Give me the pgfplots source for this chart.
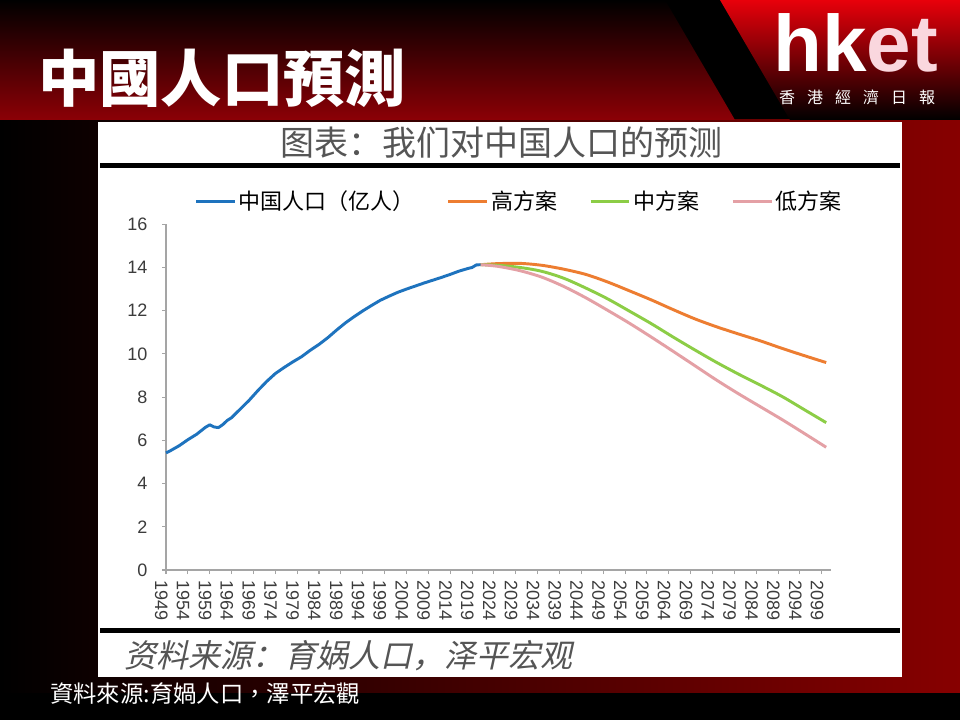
\documentclass[border=0pt]{standalone}
\usepackage{fontspec}
\usepackage{pgfplots}
\pgfplotsset{compat=1.18}
\setmainfont{Liberation Sans}
\newfontfamily\tcfont{Noto Sans CJK TC}
\newfontfamily\scfont{Noto Sans CJK SC}
\newfontfamily\scslant{Noto Sans CJK SC}[FakeSlant=0.22]
\definecolor{cblue}{RGB}{30,115,190}
\definecolor{corange}{RGB}{237,125,49}
\definecolor{cgreen}{RGB}{140,205,70}
\definecolor{cpink}{RGB}{228,160,165}
\definecolor{axgray}{RGB}{165,165,165}
\definecolor{txtgray}{RGB}{60,60,60}
\definecolor{titlegray}{RGB}{85,85,85}
\definecolor{dred}{RGB}{135,0,0}
\definecolor{bannerred}{RGB}{140,0,6}
\definecolor{bannermid}{RGB}{40,0,0}
\definecolor{logored}{RGB}{232,0,10}
\definecolor{logomid}{RGB}{150,0,5}
\definecolor{logopink}{RGB}{250,215,222}
\begin{document}
\begin{tikzpicture}
\begin{scope}[x=0.75pt,y=-0.75pt]
\useasboundingbox (0,0) rectangle (960,720);
\fill[black] (0,0) rectangle (960,720);
\shade[left color=black, middle color=black, right color=dred] (0,120) rectangle (960,692);
\shade[top color=black, middle color=bannermid, bottom color=bannerred] (0,0) -- (665,0) -- (735,120) -- (0,120) -- cycle;
\shade[top color=logored, middle color=logomid, bottom color=black] (720,0) -- (960,0) -- (960,120) -- (790,120) -- cycle;
\fill[white] (98,122) rectangle (902,677);
\fill[black] (100,163) rectangle (900,168);
\fill[black] (100,628) rectangle (900,633);
% banner title
\node[anchor=west, inner sep=0, text=white] at (38,78) {\tcfont\bfseries\fontsize{46}{46}\selectfont 中國人口預測};
% logo
\node[anchor=base west, inner sep=0, text=white] at (773,72) {\bfseries\fontsize{60}{60}\selectfont hk\textcolor{logopink}{et}};
\node[inner sep=0, text=white] at (857,97.5) {\tcfont\fontsize{12}{12}\selectfont 香\hspace{9pt}港\hspace{9pt}經\hspace{9pt}濟\hspace{9pt}日\hspace{9pt}報};
% chart title
\node[inner sep=0, text=titlegray] at (501,143) {\scfont\fontsize{25.5}{25.5}\selectfont 图表：我们对中国人口的预测};
% source in panel
\node[anchor=west, inner sep=0, text=titlegray] at (124,656) {\scslant\fontsize{24}{24}\selectfont 资料来源：育娲人口，泽平宏观};
% caption
\node[anchor=west, inner sep=0, text=white] at (50,694) {\tcfont\fontsize{17.5}{17.5}\selectfont 資料來源:育媧人口，澤平宏觀};
\end{scope}
\begin{axis}[
  at={(124.5pt,-427.5pt)}, anchor=south west,
  scale only axis, width=498.4pt, height=259.3pt,
  xmin=1949, xmax=2101, ymin=0, ymax=16,
  axis lines=left, axis line style={-, draw=axgray, line width=1.2pt},
  xtick={1949,1954,...,2099}, ytick={0,2,...,16},
  tick align=outside, major tick length=3pt,
  tick style={draw=axgray, line width=0.8pt},
  /pgf/number format/1000 sep={}, /pgf/number format/assume math mode=true,
  ticklabel style={text=txtgray},
  xticklabel style={rotate=-90, anchor=west, yshift=-3.5pt, xshift=1pt, font=\fontsize{13.5}{13.5}\selectfont},
  yticklabel style={xshift=-7.5pt, font=\fontsize{13.5}{13.5}\selectfont},
  clip=false,
  legend columns=4,
  legend style={at={(0.532,1.067)}, anchor=center, draw=none, fill=none,
    font=\scfont\fontsize{16.5}{16.5}\selectfont,
    /tikz/every even column/.append style={column sep=22pt}},
  legend image code/.code={\draw[#1, line width=2.2pt] (0pt,0pt) -- (29pt,0pt);},
]
\addplot[cblue, line width=2.2pt, line join=round] coordinates {
(1949,5.42) (1950,5.52) (1952,5.75) (1954,6.03) (1956,6.28) (1958,6.60) (1959,6.72)
(1960,6.62) (1961,6.59) (1962,6.73) (1963,6.92) (1964,7.05) (1966,7.45) (1968,7.85)
(1970,8.30) (1972,8.72) (1974,9.09) (1976,9.37) (1978,9.63) (1980,9.87) (1982,10.17)
(1984,10.44) (1986,10.75) (1988,11.10) (1990,11.43) (1992,11.72) (1994,11.99)
(1996,12.24) (1998,12.48) (2000,12.67) (2002,12.85) (2004,13.00) (2006,13.14)
(2008,13.28) (2010,13.41) (2012,13.54) (2014,13.68) (2016,13.83) (2018,13.95)
(2019,14.00) (2020,14.12) (2021,14.13)};
\addlegendentry{中国人口（亿人）}
\addplot[corange, line width=2.2pt, smooth] coordinates {
(2021,14.13) (2025,14.18) (2030,14.19) (2035,14.10) (2040,13.92) (2045,13.68)
(2050,13.33) (2055,12.92) (2060,12.50) (2065,12.05) (2070,11.62) (2075,11.25)
(2080,10.92) (2085,10.60) (2090,10.25) (2095,9.92) (2100,9.60)};
\addlegendentry{高方案}
\addplot[cgreen, line width=2.2pt, smooth] coordinates {
(2021,14.13) (2025,14.10) (2030,14.00) (2035,13.82) (2040,13.50) (2045,13.05)
(2050,12.55) (2055,11.98) (2060,11.40) (2065,10.78) (2070,10.18) (2075,9.60)
(2080,9.06) (2085,8.55) (2090,8.02) (2095,7.42) (2100,6.82)};
\addlegendentry{中方案}
\addplot[cpink, line width=2.2pt, smooth] coordinates {
(2021,14.13) (2025,14.05) (2030,13.85) (2035,13.55) (2040,13.12) (2045,12.60)
(2050,12.02) (2055,11.42) (2060,10.78) (2065,10.12) (2070,9.45) (2075,8.78)
(2080,8.15) (2085,7.55) (2090,6.95) (2095,6.32) (2100,5.68)};
\addlegendentry{低方案}
\end{axis}
\end{tikzpicture}
\end{document}
